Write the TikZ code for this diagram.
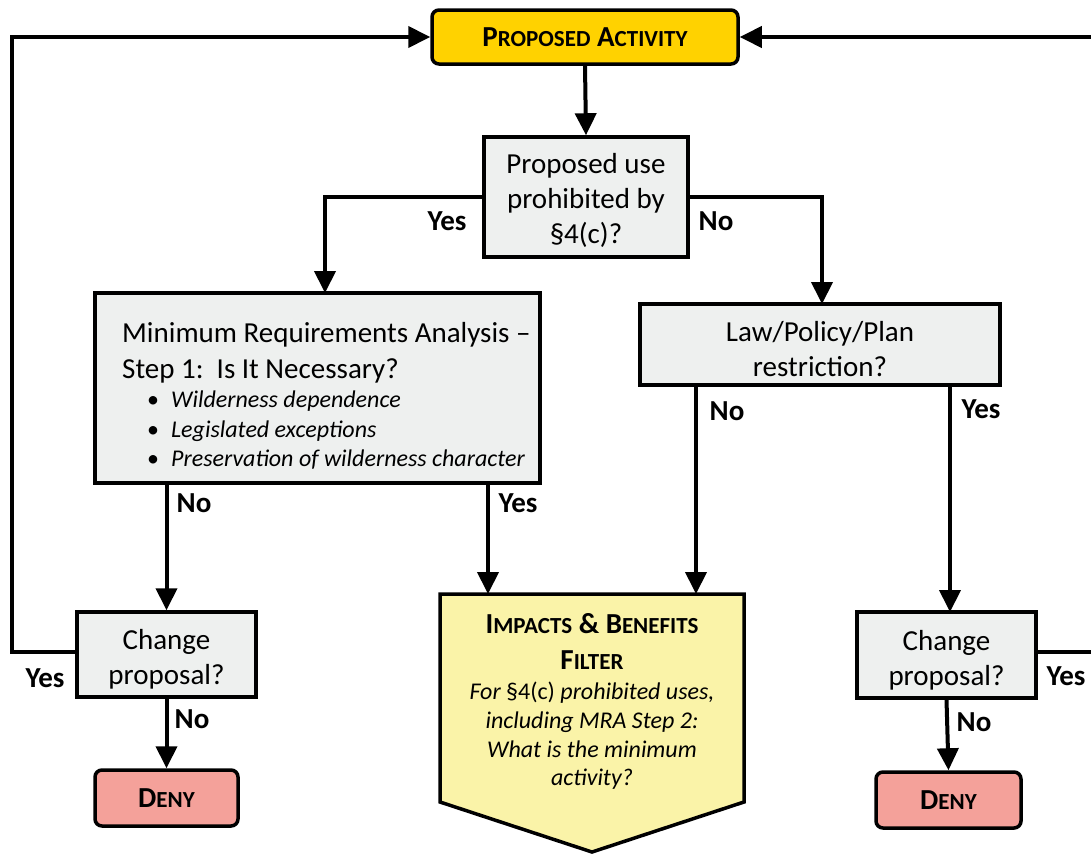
\documentclass[tikz,border=0pt]{standalone}
\usepackage{fontspec}
\setmainfont{Carlito}
\usetikzlibrary{arrows.meta}
\definecolor{gold}{RGB}{255,210,0}
\definecolor{lgray}{RGB}{238,240,239}
\definecolor{salmon}{RGB}{244,161,154}
\definecolor{lyellow}{RGB}{250,243,168}
\newcommand{\sm}[1]{{\fontsize{23}{26}\selectfont #1}}
\begin{document}
\begin{tikzpicture}[x=1pt,y=-1pt,
  box/.style={draw=black, line width=3.5pt, fill=lgray, inner sep=0pt},
  btext/.style={align=center, inner sep=0pt, font=\fontsize{29}{35}\selectfont},
  rbox/.style={draw=black, line width=3.5pt, rounded corners=7pt, align=center, inner sep=0pt,
    font=\fontsize{29}{30}\selectfont\bfseries},
  arr/.style={line width=4pt, -{Triangle[length=22pt,width=21pt]}},
  lab/.style={font=\fontsize{29}{30}\selectfont\bfseries, inner sep=0pt},
  itxt/.style={anchor=base, inner sep=0pt, font=\fontsize{24}{29}\selectfont\itshape},
  btxt/.style={anchor=base, inner sep=0pt, font=\fontsize{29}{30}\selectfont\bfseries}
]
\useasboundingbox (0,0) rectangle (1091,854);

% boxes
\node[rbox, fill=gold, minimum width=306pt, minimum height=54pt] (pa) at (585,37) {\raisebox{-2pt}{P\sm{ROPOSED} A\sm{CTIVITY}}};
\node[box, minimum width=204pt, minimum height=120pt] (q1) at (586,197) {};
\node[btext] (q1t) at ([yshift=-3pt]q1.center) {Proposed use\\prohibited by\\§4(c)?};
\node[box, minimum width=445pt, minimum height=190pt] (mra) at (317.5,388) {};
\node[anchor=base west, inner sep=0pt, font=\fontsize{29}{35}\selectfont] (mra1) at (122,342) {Minimum Requirements Analysis –};
\node[anchor=base west, inner sep=0pt, font=\fontsize{29}{35}\selectfont] (mra2) at (122,378) {Step 1:\ \ Is It Necessary?};
\node[anchor=base west, inner sep=0pt, font=\fontsize{24}{29}\selectfont\itshape] (mra3) at (147,407) {\upshape\textbullet\hspace{12pt}\itshape Wilderness dependence};
\node[anchor=base west, inner sep=0pt, font=\fontsize{24}{29}\selectfont\itshape] (mra4) at (147,437) {\upshape\textbullet\hspace{12pt}\itshape Legislated exceptions};
\node[anchor=base west, inner sep=0pt, font=\fontsize{24}{29}\selectfont\itshape] (mra5) at (147,466) {\upshape\textbullet\hspace{12pt}\itshape Preservation of wilderness character};
\node[box, minimum width=360pt, minimum height=81pt] (law) at (820,344.5) {};
\node[btext] (lawt) at ([yshift=-5pt]law.center) {Law/Policy/Plan\\restriction?};
\node[box, minimum width=179pt, minimum height=85pt] (cl) at (166.5,654.5) {};
\node[btext] (clt) at ([yshift=-5pt]cl.center) {Change\\proposal?};
\node[box, minimum width=179pt, minimum height=86pt] (cr) at (946.5,655) {};
\node[btext] (crt) at ([yshift=-5pt]cr.center) {Change\\proposal?};
\node[rbox, fill=salmon, minimum width=143pt, minimum height=56pt] (dl) at (166.5,798) {\raisebox{-3pt}{D\sm{ENY}}};
\node[rbox, fill=salmon, minimum width=145pt, minimum height=56pt] (dr) at (948.5,800) {\raisebox{-3pt}{D\sm{ENY}}};

% impacts chevron
\draw[line width=3.5pt, fill=lyellow, line join=miter] (440,594) -- (744,594) -- (744,802) -- (592,852) -- (440,802) -- cycle;
\node[btxt] (imp1) at (592,633) {I\sm{MPACTS} \& B\sm{ENEFITS}};
\node[btxt] (imp2) at (592,669) {F\sm{ILTER}};
\node[itxt] (imp3) at (592,699) {For \upshape§4(c)\itshape{} prohibited uses,};
\node[itxt] (imp4) at (592,728) {including MRA Step 2:};
\node[itxt] (imp5) at (592,757) {What is the minimum};
\node[itxt] (imp6) at (592,785) {activity?};
\coordinate (impL) at (488,594);
\coordinate (impR) at (696,594);
\coordinate (mraIn) at (325,293);
\coordinate (lawIn) at (822,304);
\coordinate (lloop) at (12,652);
\coordinate (rloop) at (1098,652);
\coordinate (crIn) at (950,612);

% connectors
\draw[arr] (pa.south) -- (q1.north);
\draw[arr] (q1.west) -| (mraIn);
\draw[arr] (q1.east) -| (lawIn);
\draw[arr] (mra.south -| cl.north) -- (cl.north);
\draw[arr] (mra.south -| impL) -- (impL);
\draw[arr] (law.south -| impR) -- (impR);
\draw[arr] (law.south -| crIn) -- (crIn);
\draw[arr] (cl.west |- lloop) -- (lloop) |- (pa.west);
\draw[arr] (cr.east |- rloop) -- (rloop) |- (pa.east);
\draw[arr] (cl.south) -- (dl.north);
\draw[arr] (cr.south) -- (dr.north);

% labels
\node[lab] (l1) at (447,221) {Yes};
\node[lab] (l2) at (716,221) {No};
\node[lab] (l3) at (194,503) {No};
\node[lab] (l4) at (518,503) {Yes};
\node[lab] (l5) at (727,411) {No};
\node[lab] (l6) at (981,409) {Yes};
\node[lab] (l7) at (45,678) {Yes};
\node[lab] (l8) at (192,719) {No};
\node[lab] (l9) at (1066,676) {Yes};
\node[lab] (l10) at (974,722) {No};
\end{tikzpicture}
\end{document}
